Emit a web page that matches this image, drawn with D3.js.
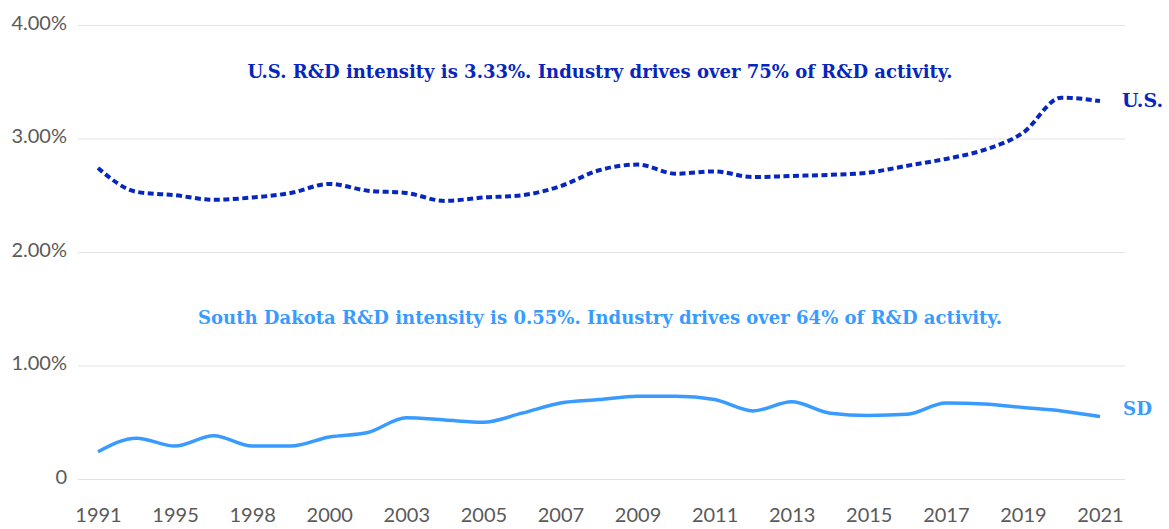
<!DOCTYPE html>
<html>
<head>
<meta charset="utf-8">
<script src="https://cdn.jsdelivr.net/npm/d3@7"></script>
<style>
  body { margin: 0; background: #fff; }
  .tick text { font-family: Lato, "Noto Sans", sans-serif; fill: #5a5a5a; font-size: 20px; }
  .note { font-family: "DejaVu Serif", serif; font-weight: bold; }
</style>
</head>
<body>
<div id="chart"></div>
<script>
// years in the data (biennial before 1997, 2002 missing)
var years = ["1991", "1993", "1995", "1997", "1998", "1999", "2000", "2001", "2003", "2004",
  "2005", "2006", "2007", "2008", "2009", "2010", "2011", "2012", "2013", "2014",
  "2015", "2016", "2017", "2018", "2019", "2020", "2021"];

// R&D intensity, percent
var usValues = [2.74, 2.53, 2.50, 2.46, 2.48, 2.52, 2.60, 2.54, 2.52, 2.45,
  2.48, 2.50, 2.58, 2.72, 2.77, 2.69, 2.71, 2.66, 2.67, 2.68,
  2.70, 2.76, 2.82, 2.90, 3.05, 3.36, 3.33];
var sdValues = [0.24, 0.36, 0.29, 0.38, 0.29, 0.29, 0.37, 0.41, 0.54, 0.52,
  0.50, 0.58, 0.67, 0.70, 0.73, 0.73, 0.70, 0.60, 0.68, 0.58,
  0.56, 0.57, 0.67, 0.66, 0.63, 0.60, 0.55];

var xTickLabels = ["1991", "1995", "1998", "2000", "2003", "2005", "2007", "2009",
  "2011", "2013", "2015", "2017", "2019", "2021"];
var yTicks = [0, 1, 2, 3, 4];

var usNote = "U.S. R&D intensity is 3.33%. Industry drives over 75% of R&D activity.";
var sdNote = "South Dakota R&D intensity is 0.55%. Industry drives over 64% of R&D activity.";

var svgWidth = 1169;
var svgHeight = 529;

var svg = d3.select("#chart")
  .append("svg")
  .attr("width", svgWidth)
  .attr("height", svgHeight);

// scales
var xScale = d3.scalePoint()
  .domain(years)
  .range([98, 1100]);

var yScale = d3.scaleLinear()
  .domain([0, 4])
  .range([479, 25]);

// y axis with gridlines
var yAxis = d3.axisLeft(yScale)
  .tickValues(yTicks)
  .tickSize(-(1125 - 78))
  .tickPadding(11)
  .tickFormat(d => d === 0 ? "0" : d3.format(".2f")(d) + "%");

var yG = svg.append("g")
  .attr("transform", "translate(78,0)")
  .call(yAxis);
yG.select(".domain").remove();
yG.selectAll(".tick line").attr("stroke", "#e3e3e3").attr("stroke-width", 1);
yG.selectAll(".tick text").attr("dy", "0.2em");

// x axis, labels only
var xAxis = d3.axisBottom(xScale)
  .tickValues(xTickLabels)
  .tickSize(0)
  .tickPadding(0);

var xG = svg.append("g")
  .attr("transform", "translate(0,508)")
  .call(xAxis);
xG.select(".domain").remove();

// lines
var line = d3.line()
  .x((d, i) => xScale(years[i]))
  .y(d => yScale(d))
  .curve(d3.curveMonotoneX);

svg.append("path")
  .datum(usValues)
  .attr("d", line)
  .attr("fill", "none")
  .attr("stroke", "#0626bd")
  .attr("stroke-width", 4)
  .attr("stroke-dasharray", "6,3.5");

svg.append("path")
  .datum(sdValues)
  .attr("d", line)
  .attr("fill", "none")
  .attr("stroke", "#3a9bff")
  .attr("stroke-width", 3.5);

// annotations
svg.append("text")
  .attr("class", "note")
  .attr("x", 600)
  .attr("y", 78)
  .attr("text-anchor", "middle")
  .attr("font-size", 18)
  .attr("textLength", 705)
  .attr("lengthAdjust", "spacingAndGlyphs")
  .attr("fill", "#0626bd")
  .text(usNote);

svg.append("text")
  .attr("class", "note")
  .attr("x", 600)
  .attr("y", 324)
  .attr("text-anchor", "middle")
  .attr("font-size", 18)
  .attr("textLength", 804)
  .attr("lengthAdjust", "spacingAndGlyphs")
  .attr("fill", "#3a9bff")
  .text(sdNote);

// end labels
svg.append("text")
  .attr("class", "note")
  .attr("x", 1122)
  .attr("y", 107)
  .attr("font-size", 19)
  .attr("textLength", 41)
  .attr("lengthAdjust", "spacingAndGlyphs")
  .attr("fill", "#0626bd")
  .text("U.S.");

svg.append("text")
  .attr("class", "note")
  .attr("x", 1123)
  .attr("y", 415)
  .attr("font-size", 19)
  .attr("textLength", 29)
  .attr("lengthAdjust", "spacingAndGlyphs")
  .attr("fill", "#3a9bff")
  .text("SD");
</script>
</body>
</html>
